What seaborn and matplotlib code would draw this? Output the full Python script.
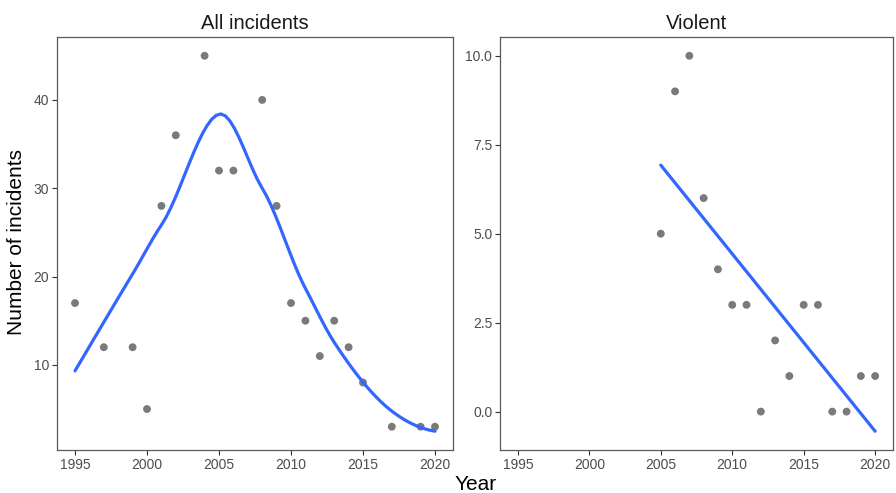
import numpy as np
import pandas as pd
import matplotlib
matplotlib.use("Agg")
import matplotlib.pyplot as plt
import seaborn as sns

# ---- data ----
all_years = [1995, 1997, 1999, 2000, 2001, 2002, 2004, 2005, 2006, 2008, 2009,
             2010, 2011, 2012, 2013, 2014, 2015, 2017, 2019, 2020]
all_counts = [17, 12, 12, 5, 28, 36, 45, 32, 32, 40, 28,
              17, 15, 11, 15, 12, 8, 3, 3, 3]

violent_years = [2005, 2006, 2007, 2008, 2009, 2010, 2011, 2012, 2013, 2014,
                 2015, 2016, 2017, 2018, 2019, 2020]
violent_counts = [5, 9, 10, 6, 4, 3, 3, 0, 2, 1, 3, 3, 0, 0, 1, 1]

x_ticks = [1995, 2000, 2005, 2010, 2015, 2020]
titles = ["All incidents", "Violent"]


def local_fit(x, y, x0, q, degree=2):
    d = np.abs(x - x0)
    h = np.sort(d)[q - 1]
    u = np.clip(d / h, 0, 1)
    w = (1 - u ** 3) ** 3
    X = np.vstack([(x - x0) ** k for k in range(degree + 1)]).T
    WX = X * w[:, None]
    beta = np.linalg.solve(X.T @ WX, WX.T @ y)
    return beta[0], beta[1]


def loess(x, y, xs, span=0.75, degree=2, cell=0.2):
    """R-style loess with kd-tree vertices + cubic Hermite interpolation."""
    x = np.asarray(x, float); y = np.asarray(y, float)
    order = np.argsort(x); x = x[order]; y = y[order]
    n = len(x)
    q = int(np.floor(n * span))
    fc = int(np.floor(n * span * cell))
    lo, hi = x.min(), x.max()
    mu = 0.005 * (hi - lo)
    verts = {lo - mu, hi + mu}

    def split(l, u):  # 0-based inclusive indices
        if u - l + 1 <= fc:
            return
        m = (l + u) // 2
        t = x[m]
        verts.add(t)
        split(l, m)
        split(m + 1, u)

    split(0, n - 1)
    v = np.array(sorted(verts))
    vals = np.array([local_fit(x, y, vi, q, degree) for vi in v])
    out = []
    for x0 in xs:
        i = np.clip(np.searchsorted(v, x0) - 1, 0, len(v) - 2)
        h = v[i + 1] - v[i]
        t = (x0 - v[i]) / h
        y0, d0 = vals[i]; y1, d1 = vals[i + 1]
        h00 = 2 * t ** 3 - 3 * t ** 2 + 1
        h10 = t ** 3 - 2 * t ** 2 + t
        h01 = -2 * t ** 3 + 3 * t ** 2
        h11 = t ** 3 - t ** 2
        out.append(h00 * y0 + h10 * h * d0 + h01 * y1 + h11 * h * d1)
    return np.array(out)


df_all = pd.DataFrame({"Year": all_years, "n": all_counts})
df_vio = pd.DataFrame({"Year": violent_years, "n": violent_counts})

xs_all = np.linspace(min(all_years), max(all_years), 80)
fit_all = pd.DataFrame({"Year": xs_all, "n": loess(all_years, all_counts, xs_all)})

xs_vio = np.linspace(min(violent_years), max(violent_years), 80)
coef = np.polyfit(violent_years, violent_counts, 1)
fit_vio = pd.DataFrame({"Year": xs_vio, "n": np.polyval(coef, xs_vio)})

sns.set_theme(style="white")
plt.rcParams["font.family"] = ["Liberation Sans", "DejaVu Sans"]

fig = plt.figure(figsize=(8.96, 4.93), dpi=100)
W, H = 896, 493
ax1 = fig.add_axes([57 / W, (H - 450) / H, 396 / W, 413 / H])
ax2 = fig.add_axes([500 / W, (H - 450) / H, 393 / W, 413 / H])

xmin = min(all_years + violent_years)
xmax = max(all_years + violent_years)
xpad = (xmax - xmin) * 0.05

for ax, df, fit, title in [(ax1, df_all, fit_all, titles[0]),
                           (ax2, df_vio, fit_vio, titles[1])]:
    sns.scatterplot(data=df, x="Year", y="n", ax=ax, color="#4d4d4d", alpha=0.75,
                    s=32, edgecolor="none", zorder=3)
    sns.lineplot(data=fit, x="Year", y="n", ax=ax, color="#3366FF", lw=2.3,
                 zorder=4, estimator=None)
    lo = min(df["n"].min(), fit["n"].min())
    hi = max(df["n"].max(), fit["n"].max())
    pad = (hi - lo) * 0.05
    ax.set_ylim(lo - pad, hi + pad)
    ax.set_xlim(xmin - xpad, xmax + xpad)
    ax.set_xticks(x_ticks)
    ax.set_title(title, fontsize=14.5, color="#1a1a1a", pad=6)
    ax.set_xlabel("")
    ax.set_ylabel("")
    for sp in ax.spines.values():
        sp.set_color("#5a5a5a")
        sp.set_linewidth(0.9)
    ax.tick_params(axis="both", which="major", length=3.5, width=0.8,
                   color="#333333", labelsize=10, labelcolor="#4d4d4d",
                   bottom=True, left=True, pad=2)

ax1.set_yticks([10, 20, 30, 40])
ax2.set_yticks([0.0, 2.5, 5.0, 7.5, 10.0])
ax2.set_yticklabels(["0.0", "2.5", "5.0", "7.5", "10.0"])

fig.text(476 / W, 1 - 484 / H, "Year", ha="center", va="center", fontsize=15,
         color="black")
fig.text(17 / W, 1 - 242 / H, "Number of incidents", ha="center", va="center",
         rotation=90, fontsize=15, color="black")

fig.savefig("out.png", dpi=100)
